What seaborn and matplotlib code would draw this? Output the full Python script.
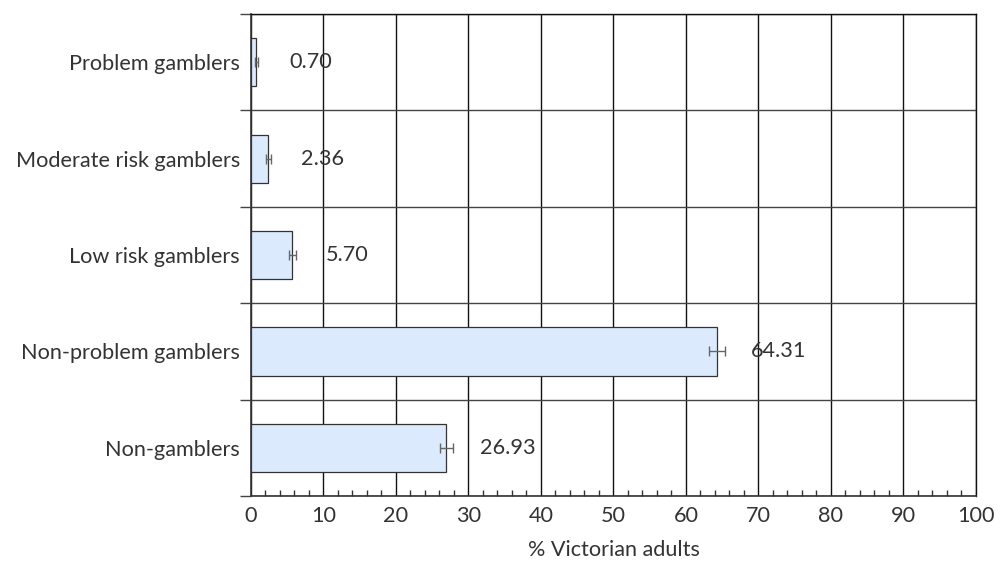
import matplotlib
matplotlib.use("Agg")
import matplotlib.pyplot as plt
import seaborn as sns
import pandas as pd
import numpy as np
from matplotlib.ticker import MultipleLocator, FixedLocator

categories = ["Problem gamblers", "Moderate risk gamblers", "Low risk gamblers",
              "Non-problem gamblers", "Non-gamblers"]
values = [0.70, 2.36, 5.70, 64.31, 26.93]
errors = [0.2, 0.35, 0.5, 1.1, 0.9]
x_ticks = [0, 10, 20, 30, 40, 50, 60, 70, 80, 90, 100]

df = pd.DataFrame({"group": categories, "pct": values})

sns.set_theme(style="white")
plt.rcParams["font.family"] = ["Lato", "DejaVu Sans"]

FS = 15.6
TXT = "#333333"

fig = plt.figure(figsize=(10.04, 5.63), dpi=100)
ax = fig.add_axes([0.25, 0.119, 0.722, 0.856])

sns.barplot(data=df, x="pct", y="group", orient="h", order=categories,
            color="#dbeafc", edgecolor="#333333", linewidth=0.9,
            width=0.5, errorbar=None, saturation=1, ax=ax)

ypos = np.arange(len(categories))
ax.errorbar(values, ypos, xerr=errors, fmt="none", ecolor="#666666",
            elinewidth=1.0, capsize=3.5, capthick=1.0, zorder=4)

for v, y in zip(values, ypos):
    ax.text(v + 4.6, y, f"{v:.2f}", ha="left", va="center",
            fontsize=FS, color=TXT, zorder=5)

ax.set_xlim(0, 100)
ax.set_ylim(len(categories) - 0.5, -0.5)
ax.set_xticks(x_ticks)
ax.set_xticklabels([str(t) for t in x_ticks], fontsize=FS, color=TXT)
ax.xaxis.set_minor_locator(MultipleLocator(2))
ax.tick_params(axis="x", which="major", direction="inout", length=8, width=1,
               color="#333333", pad=3)
ax.tick_params(axis="x", which="minor", direction="in", length=4, width=1,
               color="#333333", bottom=True)

ax.yaxis.set_minor_locator(FixedLocator(np.arange(-0.5, len(categories), 1.0)))
ax.set_yticks(ypos)
ax.set_yticklabels(categories, fontsize=FS, color=TXT)
ax.tick_params(axis="y", which="major", length=0, pad=8)
ax.tick_params(axis="y", which="minor", direction="out", length=8, width=1,
               color="#444444", left=True)

ax.set_axisbelow(True)
ax.grid(axis="x", which="major", color="#111111", linewidth=1.0)
ax.grid(axis="y", which="minor", color="#444444", linewidth=1.0)
ax.grid(axis="y", which="major", visible=False)

for side in ["left", "bottom"]:
    ax.spines[side].set_color("#333333")
    ax.spines[side].set_linewidth(1.2)
for side in ["top", "right"]:
    ax.spines[side].set_color("#111111")
    ax.spines[side].set_linewidth(1.0)

ax.set_xlabel("% Victorian adults", fontsize=FS, color=TXT, labelpad=10)
ax.set_ylabel("")

fig.savefig("out.png", dpi=100, facecolor="white")
